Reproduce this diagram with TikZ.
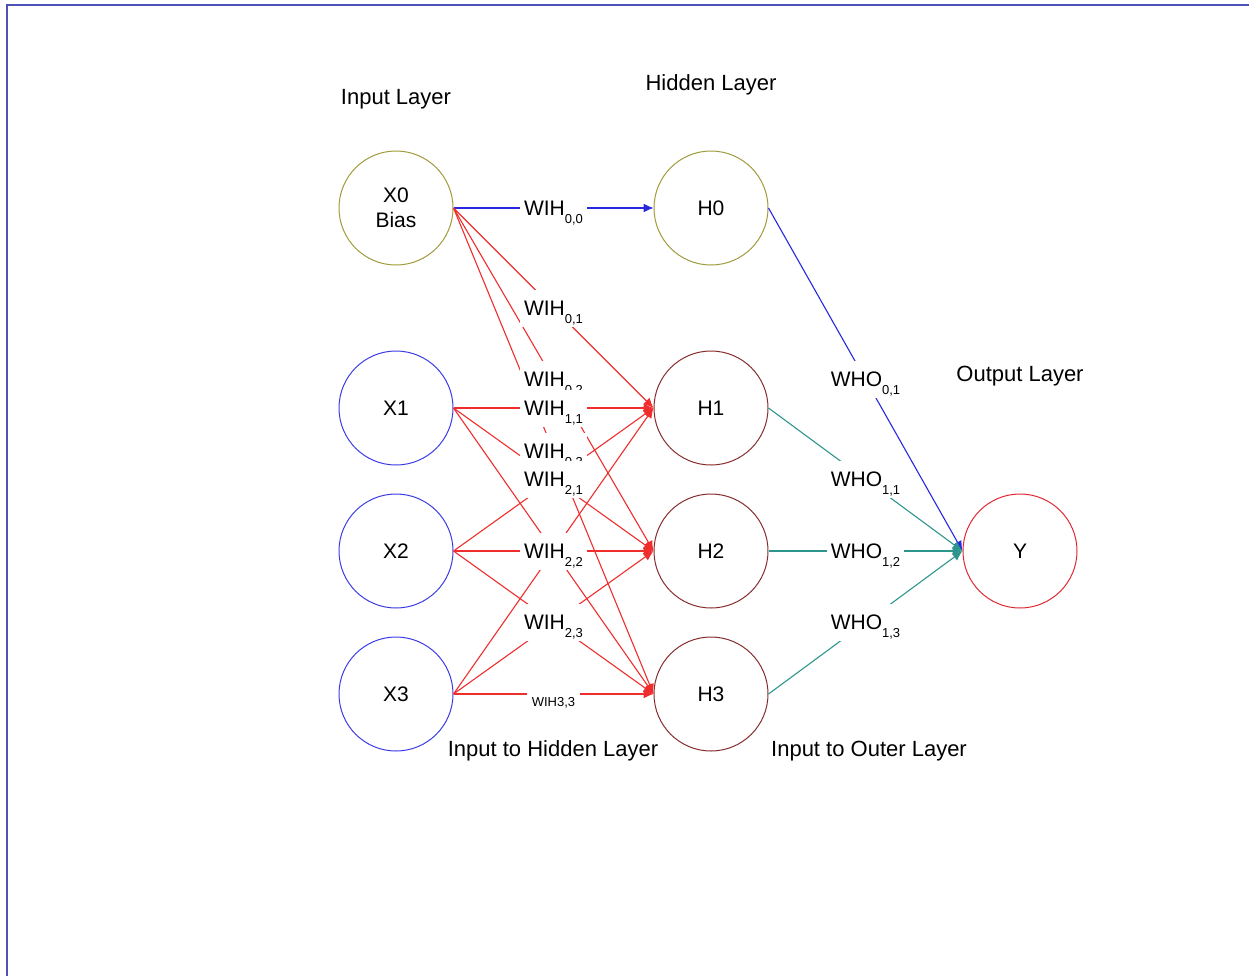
\documentclass[tikz,border=0pt]{standalone}
\usepackage{fontspec}
\setmainfont{Liberation Sans}
\usetikzlibrary{arrows.meta}

\definecolor{olivec}{RGB}{160,155,60}
\definecolor{inblue}{RGB}{60,60,230}
\definecolor{hidred}{RGB}{135,45,45}
\definecolor{outred}{RGB}{225,40,50}
\definecolor{wred}{RGB}{240,45,45}
\definecolor{wblue}{RGB}{40,40,225}
\definecolor{wteal}{RGB}{45,150,140}
\definecolor{frameblue}{RGB}{80,80,185}

% 权重下标(不占高度)
\newcommand{\wsub}[1]{\raisebox{-4pt}[0pt][0pt]{\fontsize{6.5}{7}\selectfont #1}}

\tikzset{
  neuron/.style={circle, draw, line width=0.5pt, minimum size=57pt, inner sep=0pt,
    font=\fontsize{10.5}{12.5}\selectfont, align=center},
  weight/.style={fill=white, inner xsep=2pt, inner ysep=0pt, minimum height=18.5pt,
    font=\fontsize{10.5}{12}\selectfont},
  conn/.style={line width=0.55pt, -{Latex[length=5pt,width=4.5pt]}},
  title/.style={font=\fontsize{11}{13}\selectfont},
}

\begin{document}
\begin{tikzpicture}[x=0.5pt,y=-0.5pt]
  \useasboundingbox (0,0) rectangle (1249,976);
  % 边框
  \draw[frameblue, line width=1pt] (7,976) -- (7,5) -- (1249,5);

  % 输入层
  \node[neuron, draw=olivec] (x0) at (396,208) {X0\\Bias};
  \foreach \i/\y in {1/408, 2/551, 3/694}
    \node[neuron, draw=inblue] (x\i) at (396,\y) {X\i};
  % 隐藏层
  \node[neuron, draw=olivec] (h0) at (711,208) {H0};
  \foreach \i/\y in {1/408, 2/551, 3/694}
    \node[neuron, draw=hidred] (h\i) at (711,\y) {H\i};
  % 输出层
  \node[neuron, draw=outred] (y) at (1020,551) {Y};

  % 标题
  \node[title] (tin) at (396,99) {Input Layer};
  \node[title] (thid) at (711,85) {Hidden Layer};
  \node[title] (tout) at (1020,376) {Output Layer};
  \node[title] (tih) at (553,751) {Input to Hidden Layer};
  \node[title] (tio) at (869,751) {Input to Outer Layer};

  % 连线
  \draw[conn, wblue] (x0.east) -- (h0.west);
  \foreach \i in {0,...,3}
    \foreach \j in {1,2,3}
      \draw[conn, wred] (x\i.east) -- (h\j.west);
  \draw[conn, wblue] (h0.east) -- (y.west);
  \foreach \j in {1,2,3}
    \draw[conn, wteal] (h\j.east) -- (y.west);

  % 权重标签
  \path (x0.east) -- (h0.west) node[weight, midway] {WIH\wsub{0,0}};
  \path (x0.east) -- (h1.west) node[weight, midway] {WIH\wsub{0,1}};
  \path (x0.east) -- (h2.west) node[weight, midway] {WIH\wsub{0,2}};
  \path (x0.east) -- (h3.west) node[weight, midway] {WIH\wsub{0,3}};
  \path (x1.east) -- (h1.west) node[weight, midway] {WIH\wsub{1,1}};
  \path (x2.east) -- (h1.west) node[weight, midway] {WIH\wsub{2,1}};
  \path (x2.east) -- (h2.west) node[weight, midway] {WIH\wsub{2,2}};
  \path (x2.east) -- (h3.west) node[weight, midway] {WIH\wsub{2,3}};
  \path (x3.east) -- (h3.west) node[weight, midway, minimum height=0pt,
    inner xsep=2.2pt, inner ysep=4.5pt, yshift=-4.5pt,
    font=\fontsize{6.5}{7}\selectfont] {WIH3,3};
  \path (h0.east) -- (y.west) node[weight, midway] {WHO\wsub{0,1}};
  \foreach \j in {1,2,3}
    \path (h\j.east) -- (y.west) node[weight, midway] {WHO\wsub{1,\j}};
\end{tikzpicture}
\end{document}
